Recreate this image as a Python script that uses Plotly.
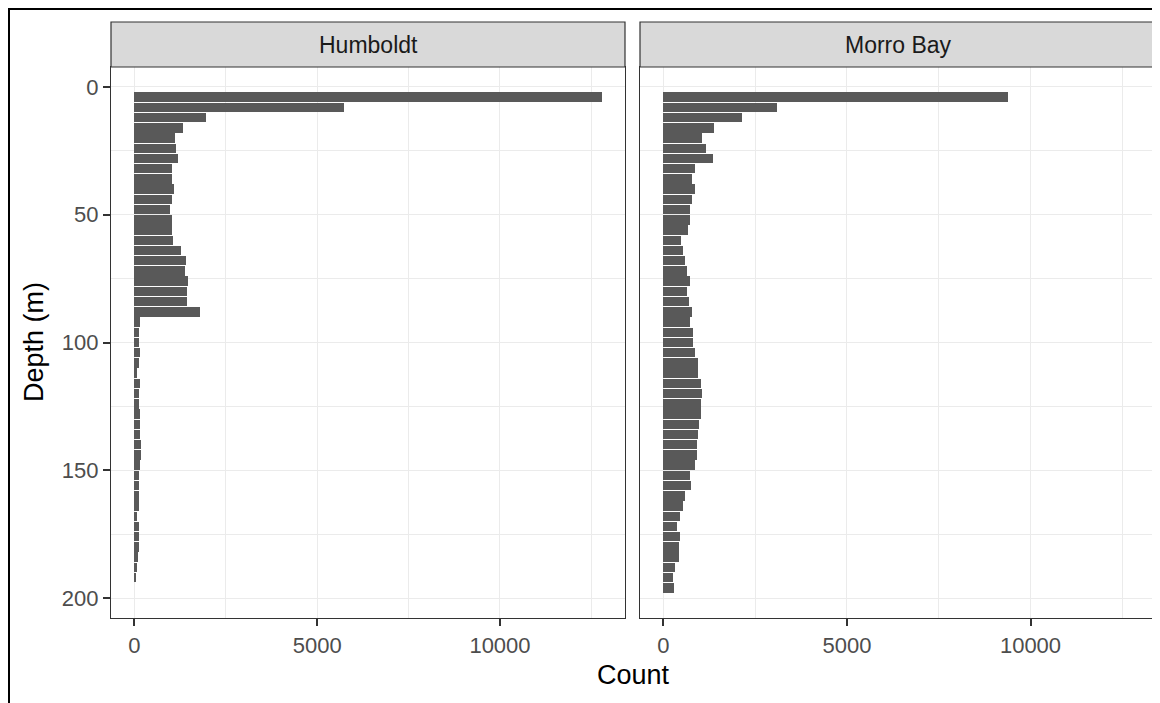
import plotly.graph_objects as go

# ---- data ----
depth_bins = [4, 8, 12, 16, 20, 24, 28, 32, 36, 40, 44, 48, 52, 56, 60, 64, 68, 72, 76, 80,
              84, 88, 92, 96, 100, 104, 108, 112, 116, 120, 124, 128, 132, 136, 140, 144, 148,
              152, 156, 160, 164, 168, 172, 176, 180, 184, 188, 192, 196]

humboldt_counts = [12780, 5740, 1965, 1340, 1105, 1140, 1205, 1030, 1030, 1095, 1030, 970,
                   1030, 1030, 1070, 1270, 1405, 1395, 1475, 1430, 1430, 1800, 150, 118,
                   118, 150, 118, 82, 150, 118, 118, 150, 150, 150, 190, 190, 150, 118, 118,
                   118, 118, 82, 118, 118, 118, 100, 82, 45, 0]

morro_counts = [9400, 3080, 2130, 1365, 1040, 1150, 1340, 850, 780, 850, 780, 715, 715, 680,
                480, 525, 580, 650, 715, 650, 690, 780, 715, 815, 815, 850, 940, 940, 1015,
                1040, 1015, 1015, 980, 940, 905, 905, 850, 715, 745, 580, 545, 445, 380, 445,
                410, 410, 317, 254, 281]

panels = ["Humboldt", "Morro Bay"]
x_ticks = [0, 5000, 10000]
y_ticks = [0, 50, 100, 150, 200]

# ---- layout geometry (page body has an 8px margin) ----
OFF = 8
W, H = 1160 - OFF, 703 - OFF
ml, mr, mt = 111 - OFF, 4, 22 - OFF
panel_top_px = 67 - OFF
panel_bot_px = 618 - OFF
mb = H - panel_bot_px
pw = W - ml - mr
ph = H - mt - mb
y_dom_top = (panel_bot_px - panel_top_px) / ph
dom1 = [0, (625 - OFF - ml) / pw]
dom2 = [(640 - OFF - ml) / pw, 1]

bar_color = "#595959"
grid = "#EBEBEB"
border = "#333333"
FONT = "Liberation Sans, Arial, sans-serif"

fig = go.Figure()
fig.add_trace(go.Bar(y=depth_bins, x=humboldt_counts, orientation="h", width=3.7,
                     marker=dict(color=bar_color, line=dict(width=0)),
                     xaxis="x", yaxis="y", showlegend=False))
fig.add_trace(go.Bar(y=depth_bins, x=morro_counts, orientation="h", width=3.7,
                     marker=dict(color=bar_color, line=dict(width=0)),
                     xaxis="x2", yaxis="y2", showlegend=False))

xmax = max(max(humboldt_counts), max(morro_counts))
xr = [-0.05 * xmax, 1.05 * xmax]
ymin, ymax = 2, 198
yr = [ymax + 0.05 * (ymax - ymin), ymin - 0.05 * (ymax - ymin)]

tickfont = dict(family=FONT, size=22, color="#4D4D4D")

common_x = dict(range=xr, tickvals=x_ticks, ticktext=[str(v) for v in x_ticks],
                showgrid=True, gridcolor=grid, gridwidth=1.4, zeroline=False,
                showline=True, mirror=True, linecolor=border, linewidth=1.2,
                ticks="outside", ticklen=7, tickwidth=1.6, tickcolor=border,
                tickfont=tickfont,
                minor=dict(tickvals=[2500, 7500, 12500], showgrid=True, gridcolor=grid,
                           gridwidth=0.8, ticks=""))
common_y = dict(range=yr, showgrid=True, gridcolor=grid, gridwidth=1.4, zeroline=False,
                showline=True, mirror=True, linecolor=border, linewidth=1.2,
                tickvals=y_ticks, ticktext=[str(v) for v in y_ticks],
                domain=[0, y_dom_top],
                minor=dict(tickvals=[25, 75, 125, 175], showgrid=True, gridcolor=grid,
                           gridwidth=0.8, ticks=""))

fig.update_layout(
    width=W, height=H,
    margin=dict(l=ml, r=mr, t=mt, b=mb),
    paper_bgcolor="white", plot_bgcolor="white",
    bargap=0,
    xaxis=dict(domain=dom1, anchor="y", **common_x),
    xaxis2=dict(domain=dom2, anchor="y2", **common_x),
    yaxis=dict(anchor="x", ticks="outside", ticklen=7, tickwidth=1.6, tickcolor=border,
               tickfont=tickfont, **common_y),
    yaxis2=dict(anchor="x2", ticks="", showticklabels=False, **common_y),
)


def px_to_paper_x(px):
    return (px - OFF - ml) / pw


def px_to_paper_y(py):
    return (H - mb - (py - OFF)) / ph


# strips
shapes = []
annotations = []
for name, dom in zip(panels, [dom1, dom2]):
    shapes.append(dict(type="rect", xref="paper", yref="paper",
                       x0=dom[0], x1=dom[1], y0=y_dom_top, y1=1,
                       fillcolor="#D9D9D9", line=dict(color=border, width=1.2), layer="above"))
    annotations.append(dict(text=name, xref="paper", yref="paper",
                            x=(dom[0] + dom[1]) / 2, y=(y_dom_top + 1) / 2,
                            xanchor="center", yanchor="middle", showarrow=False,
                            font=dict(family=FONT, size=23, color="#1A1A1A")))

# outer black frame (only top and left visible in reference)
shapes.append(dict(type="rect", xref="paper", yref="paper",
                   x0=(0.5 - ml) / pw, x1=(W + 20 - ml) / pw,
                   y0=-0.3, y1=(H - mb - 0.5) / ph,
                   fillcolor="rgba(0,0,0,0)", line=dict(color="black", width=3), layer="above"))

# axis titles
annotations.append(dict(text="Count", xref="paper", yref="paper",
                        x=0.5, y=px_to_paper_y(675), xanchor="center", yanchor="middle",
                        showarrow=False,
                        font=dict(family=FONT, size=27, color="black")))
annotations.append(dict(text="Depth (m)", xref="paper", yref="paper",
                        x=px_to_paper_x(34), y=px_to_paper_y(342), xanchor="center",
                        yanchor="middle", textangle=-90, showarrow=False,
                        font=dict(family=FONT, size=27, color="black")))

fig.update_layout(shapes=shapes, annotations=annotations)
fig.write_html("out.html")
